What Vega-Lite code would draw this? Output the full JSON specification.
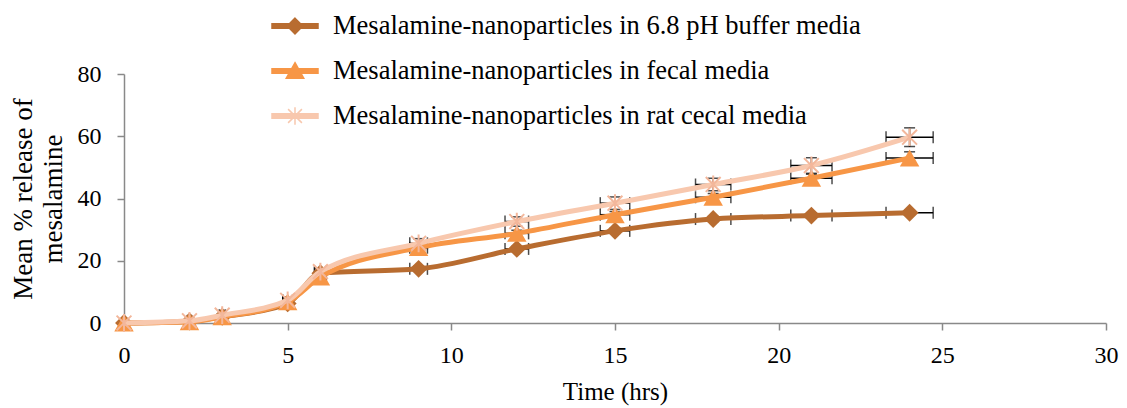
{
  "$schema": "https://vega.github.io/schema/vega-lite/v6.json",
  "width": 982,
  "height": 249,
  "autosize": "none",
  "padding": {"left": 124, "top": 74, "right": 21, "bottom": 85},
  "background": "white",
  "config": {"view": {"stroke": null}, "font": "Liberation Serif"},
  "data": {"values": [
    {"series": "Mesalamine-nanoparticles in 6.8 pH buffer media", "t": 0, "v": 0, "xlo": 0, "xhi": 0, "ylo": -0.3, "yhi": 0.3},
    {"series": "Mesalamine-nanoparticles in 6.8 pH buffer media", "t": 2, "v": 0.5, "xlo": 1.94, "xhi": 2.06, "ylo": 0.2, "yhi": 0.8},
    {"series": "Mesalamine-nanoparticles in 6.8 pH buffer media", "t": 3, "v": 2, "xlo": 2.91, "xhi": 3.09, "ylo": 1.6, "yhi": 2.4},
    {"series": "Mesalamine-nanoparticles in 6.8 pH buffer media", "t": 5, "v": 6.3, "xlo": 4.85, "xhi": 5.15, "ylo": 5.7, "yhi": 6.9},
    {"series": "Mesalamine-nanoparticles in 6.8 pH buffer media", "t": 6, "v": 16, "xlo": 5.82, "xhi": 6.18, "ylo": 15.3, "yhi": 16.7},
    {"series": "Mesalamine-nanoparticles in 6.8 pH buffer media", "t": 9, "v": 17.4, "xlo": 8.73, "xhi": 9.27, "ylo": 16.6, "yhi": 18.2},
    {"series": "Mesalamine-nanoparticles in 6.8 pH buffer media", "t": 12, "v": 23.8, "xlo": 11.64, "xhi": 12.36, "ylo": 23, "yhi": 24.6},
    {"series": "Mesalamine-nanoparticles in 6.8 pH buffer media", "t": 15, "v": 29.6, "xlo": 14.55, "xhi": 15.45, "ylo": 28.8, "yhi": 30.4},
    {"series": "Mesalamine-nanoparticles in 6.8 pH buffer media", "t": 18, "v": 33.4, "xlo": 17.46, "xhi": 18.54, "ylo": 32.6, "yhi": 34.2},
    {"series": "Mesalamine-nanoparticles in 6.8 pH buffer media", "t": 21, "v": 34.5, "xlo": 20.37, "xhi": 21.63, "ylo": 33.7, "yhi": 35.3},
    {"series": "Mesalamine-nanoparticles in 6.8 pH buffer media", "t": 24, "v": 35.4, "xlo": 23.28, "xhi": 24.72, "ylo": 34.6, "yhi": 36.2},
    {"series": "Mesalamine-nanoparticles in fecal media", "t": 0, "v": 0, "xlo": 0, "xhi": 0, "ylo": -0.3, "yhi": 0.3},
    {"series": "Mesalamine-nanoparticles in fecal media", "t": 2, "v": 0.4, "xlo": 1.94, "xhi": 2.06, "ylo": 0.1, "yhi": 0.7},
    {"series": "Mesalamine-nanoparticles in fecal media", "t": 3, "v": 2, "xlo": 2.91, "xhi": 3.09, "ylo": 1.6, "yhi": 2.4},
    {"series": "Mesalamine-nanoparticles in fecal media", "t": 5, "v": 6.8, "xlo": 4.85, "xhi": 5.15, "ylo": 6.2, "yhi": 7.4},
    {"series": "Mesalamine-nanoparticles in fecal media", "t": 6, "v": 14.8, "xlo": 5.82, "xhi": 6.18, "ylo": 14, "yhi": 15.6},
    {"series": "Mesalamine-nanoparticles in fecal media", "t": 9, "v": 24.2, "xlo": 8.73, "xhi": 9.27, "ylo": 23.2, "yhi": 25.2},
    {"series": "Mesalamine-nanoparticles in fecal media", "t": 12, "v": 28.8, "xlo": 11.64, "xhi": 12.36, "ylo": 27.8, "yhi": 29.8},
    {"series": "Mesalamine-nanoparticles in fecal media", "t": 15, "v": 34.8, "xlo": 14.55, "xhi": 15.45, "ylo": 33.8, "yhi": 35.8},
    {"series": "Mesalamine-nanoparticles in fecal media", "t": 18, "v": 40.4, "xlo": 17.46, "xhi": 18.54, "ylo": 39.2, "yhi": 41.6},
    {"series": "Mesalamine-nanoparticles in fecal media", "t": 21, "v": 46.5, "xlo": 20.37, "xhi": 21.63, "ylo": 45.2, "yhi": 47.8},
    {"series": "Mesalamine-nanoparticles in fecal media", "t": 24, "v": 53, "xlo": 23.28, "xhi": 24.72, "ylo": 51, "yhi": 55},
    {"series": "Mesalamine-nanoparticles in rat cecal media", "t": 0, "v": 0, "xlo": 0, "xhi": 0, "ylo": -0.3, "yhi": 0.3},
    {"series": "Mesalamine-nanoparticles in rat cecal media", "t": 2, "v": 0.7, "xlo": 1.94, "xhi": 2.06, "ylo": 0.3, "yhi": 1.1},
    {"series": "Mesalamine-nanoparticles in rat cecal media", "t": 3, "v": 2.5, "xlo": 2.91, "xhi": 3.09, "ylo": 2, "yhi": 3},
    {"series": "Mesalamine-nanoparticles in rat cecal media", "t": 5, "v": 7.3, "xlo": 4.85, "xhi": 5.15, "ylo": 6.3, "yhi": 8.3},
    {"series": "Mesalamine-nanoparticles in rat cecal media", "t": 6, "v": 16.5, "xlo": 5.82, "xhi": 6.18, "ylo": 15.3, "yhi": 17.7},
    {"series": "Mesalamine-nanoparticles in rat cecal media", "t": 9, "v": 25.6, "xlo": 8.73, "xhi": 9.27, "ylo": 24.1, "yhi": 27.1},
    {"series": "Mesalamine-nanoparticles in rat cecal media", "t": 12, "v": 32.6, "xlo": 11.64, "xhi": 12.36, "ylo": 31.1, "yhi": 34.1},
    {"series": "Mesalamine-nanoparticles in rat cecal media", "t": 15, "v": 38.5, "xlo": 14.55, "xhi": 15.45, "ylo": 36.5, "yhi": 40.5},
    {"series": "Mesalamine-nanoparticles in rat cecal media", "t": 18, "v": 44.5, "xlo": 17.46, "xhi": 18.54, "ylo": 42.5, "yhi": 46.5},
    {"series": "Mesalamine-nanoparticles in rat cecal media", "t": 21, "v": 50.6, "xlo": 20.37, "xhi": 21.63, "ylo": 48.1, "yhi": 53.1},
    {"series": "Mesalamine-nanoparticles in rat cecal media", "t": 24, "v": 59.7, "xlo": 23.28, "xhi": 24.72, "ylo": 56.7, "yhi": 62.7}
  ]},
  "encoding": {
    "x": {"field": "t", "type": "quantitative",
      "scale": {"domain": [0, 30], "nice": false, "zero": false},
      "axis": {"title": "Time (hrs)", "values": [0, 5, 10, 15, 20, 25, 30], "grid": false, "labelFlush": false,
        "domainColor": "#898989", "domainWidth": 1.5, "tickColor": "#898989", "tickWidth": 1.5, "tickSize": 7,
        "labelFont": "Liberation Serif", "labelFontSize": 24, "labelColor": "black", "labelPadding": 13,
        "titleFont": "Liberation Serif", "titleFontSize": 25, "titleFontWeight": "normal", "titleColor": "black", "titlePadding": 12}},
    "y": {"field": "v", "type": "quantitative",
      "scale": {"domain": [0, 80], "nice": false},
      "axis": {"title": ["Mean % release of", "mesalamine"], "values": [0, 20, 40, 60, 80], "grid": false, "labelFlush": false,
        "domainColor": "#898989", "domainWidth": 1.5, "tickColor": "#898989", "tickWidth": 1.5, "tickSize": 7,
        "labelFont": "Liberation Serif", "labelFontSize": 24, "labelColor": "black", "labelPadding": 16,
        "titleFont": "Liberation Serif", "titleFontSize": 27, "titleFontWeight": "normal", "titleColor": "black",
        "titleLineHeight": 30, "titlePadding": 10}}
  },
  "layer": [
    {"mark": {"type": "rule", "color": "black", "strokeWidth": 1.5},
     "encoding": {"x": {"field": "xlo", "type": "quantitative"}, "x2": {"field": "xhi"}}},
    {"mark": {"type": "tick", "orient": "vertical", "color": "black", "thickness": 1.5, "size": 12},
     "encoding": {"x": {"field": "xlo", "type": "quantitative"}}},
    {"mark": {"type": "tick", "orient": "vertical", "color": "black", "thickness": 1.5, "size": 12},
     "encoding": {"x": {"field": "xhi", "type": "quantitative"}}},
    {"mark": {"type": "rule", "color": "black", "strokeWidth": 1.5},
     "encoding": {"y": {"field": "ylo", "type": "quantitative"}, "y2": {"field": "yhi"}}},
    {"mark": {"type": "tick", "orient": "horizontal", "color": "black", "thickness": 1.5, "size": 11},
     "encoding": {"y": {"field": "ylo", "type": "quantitative"}}},
    {"mark": {"type": "tick", "orient": "horizontal", "color": "black", "thickness": 1.5, "size": 11},
     "encoding": {"y": {"field": "yhi", "type": "quantitative"}}},
    {"transform": [{"filter": "datum.series === 'Mesalamine-nanoparticles in 6.8 pH buffer media'"}],
     "mark": {"type": "line", "strokeWidth": 5, "interpolate": "monotone"},
     "encoding": {"color": {"field": "series", "type": "nominal",
       "scale": {"domain": ["Mesalamine-nanoparticles in 6.8 pH buffer media", "Mesalamine-nanoparticles in fecal media", "Mesalamine-nanoparticles in rat cecal media"],
                 "range": ["#B86C30", "#F79646", "#F8C8AE"]},
       "legend": {"orient": "none", "legendX": 147, "legendY": -72, "title": null, "padding": 0,
         "symbolSize": 2116, "symbolStrokeWidth": 1.5, "labelOffset": 14, "rowPadding": 7,
         "labelFont": "Liberation Serif", "labelFontSize": 26.5, "labelColor": "black", "labelLimit": 800,
         "encode": {"symbols": {"update": {
           "shape": {"signal": "datum.value === 'Mesalamine-nanoparticles in 6.8 pH buffer media' ? 'M-1,-0.1L1,-0.1L1,0.1L-1,0.1ZM0,-0.34L0.34,0L0,0.34L-0.34,0Z' : datum.value === 'Mesalamine-nanoparticles in fecal media' ? 'M-1,-0.1L1,-0.1L1,0.1L-1,0.1ZM0,-0.36L0.38,0.32L-0.38,0.32Z' : 'M-1,-0.1L1,-0.1L1,0.1L-1,0.1ZM-0.3,-0.3L0.3,0.3M-0.3,0.3L0.3,-0.3M0,-0.38L0,0.38M-0.38,0L0.38,0'"},
           "fill": {"signal": "scale('color', datum.value)"},
           "stroke": {"signal": "scale('color', datum.value)"},
           "strokeWidth": {"value": 1.5},
           "opacity": {"value": 1}
         }}}}}}},
    {"transform": [{"filter": "datum.series === 'Mesalamine-nanoparticles in 6.8 pH buffer media'"}],
     "mark": {"type": "point", "shape": "diamond", "filled": true, "size": 320, "opacity": 1},
     "encoding": {"color": {"field": "series", "type": "nominal"}}},
    {"transform": [{"filter": "datum.series === 'Mesalamine-nanoparticles in fecal media'"}],
     "mark": {"type": "line", "strokeWidth": 5, "interpolate": "monotone"},
     "encoding": {"color": {"field": "series", "type": "nominal"}}},
    {"transform": [{"filter": "datum.series === 'Mesalamine-nanoparticles in fecal media'"}],
     "mark": {"type": "point", "shape": "triangle-up", "filled": true, "size": 380, "opacity": 1},
     "encoding": {"color": {"field": "series", "type": "nominal"}}},
    {"transform": [{"filter": "datum.series === 'Mesalamine-nanoparticles in rat cecal media'"}],
     "mark": {"type": "line", "strokeWidth": 5, "interpolate": "monotone"},
     "encoding": {"color": {"field": "series", "type": "nominal"}}},
    {"transform": [{"filter": "datum.series === 'Mesalamine-nanoparticles in rat cecal media'"}],
     "mark": {"type": "point", "shape": "M-1,-1L1,1M-1,1L1,-1M0,-1.2L0,1.2", "filled": false, "size": 220, "strokeWidth": 2, "opacity": 1},
     "encoding": {"stroke": {"value": "#F3B79B"}}}
  ]
}
